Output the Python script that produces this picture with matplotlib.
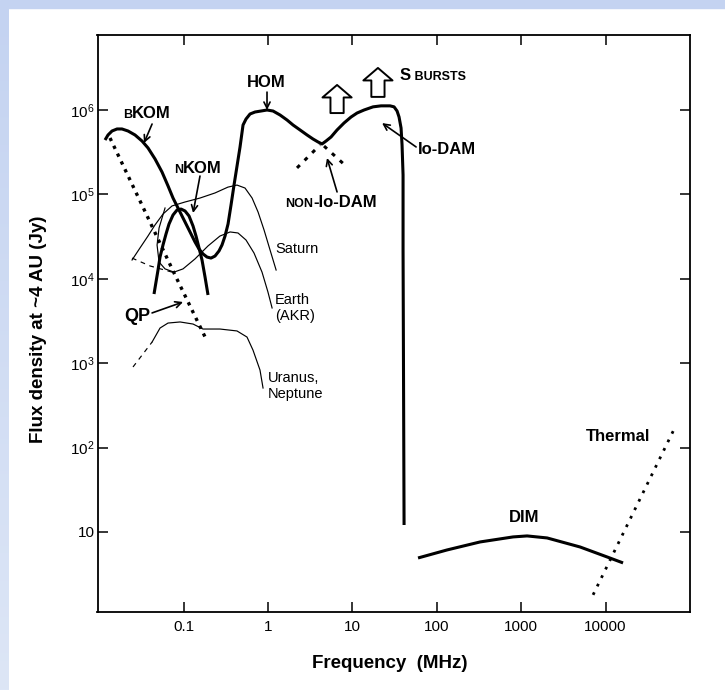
import matplotlib
matplotlib.use("Agg")
import matplotlib.pyplot as plt
from matplotlib.patches import Rectangle
from matplotlib.colors import LinearSegmentedColormap
from matplotlib.ticker import NullLocator
import numpy as np

plt.rcParams['font.family'] = ['Liberation Sans', 'DejaVu Sans']
plt.rcParams['mathtext.fontset'] = 'custom'
plt.rcParams['mathtext.rm'] = 'Liberation Sans'
plt.rcParams['mathtext.bf'] = 'Liberation Sans:bold'

# --- data (frequency in MHz, flux density in Jy) ---
# Jupiter: bKOM -> HOM -> Io-DAM envelope (thick solid)
jov_f = [0.01175, 0.01275, 0.01422, 0.0163, 0.01867, 0.0220, 0.02663, 0.03224, 0.03797,
         0.04596, 0.05563, 0.06553, 0.07508, 0.08843, 0.1042, 0.1194, 0.1368, 0.1527,
         0.1702, 0.1898, 0.2117, 0.2361, 0.2634, 0.2859, 0.3102, 0.3368, 0.3654, 0.3965,
         0.4304, 0.4670, 0.5070, 0.5501, 0.6137, 0.7034, 0.8284, 0.9757, 1.149, 1.391,
         1.684, 1.984, 2.401, 2.906, 3.423, 3.924, 4.375, 4.879, 5.594, 6.588, 7.973,
         9.652, 11.37, 13.76, 17.59, 21.88, 27.97, 31.20, 33.86, 35.75, 37.76, 38.80,
         39.88, 39.88, 40.99]
jov_s = [4.41e5, 5.06e5, 5.64e5, 5.96e5, 5.96e5, 5.64e5, 5.06e5, 4.29e5, 3.55e5,
         2.63e5, 1.84e5, 1.26e5, 9.06e4, 6.53e4, 4.71e4, 3.59e4, 2.73e4, 2.25e4,
         1.97e4, 1.81e4, 1.76e4, 1.86e4, 2.14e4, 2.52e4, 3.21e4, 4.46e4, 7.49e4, 1.29e5,
         2.17e5, 3.64e5, 6.64e5, 7.82e5, 8.97e5, 9.47e5, 9.73e5, 1.0e6, 9.73e5, 8.73e5,
         7.61e5, 6.64e5, 5.80e5, 5.06e5, 4.53e5, 4.18e5, 3.96e5, 4.29e5, 4.79e5, 5.80e5,
         7.02e5, 8.26e5, 9.21e5, 1.0e6, 1.09e6, 1.12e6, 1.12e6, 1.09e6, 9.73e5, 8.26e5,
         6.12e5, 3.85e5, 1.70e5, 2.19e4, 12.1]

# nKOM (thick solid)
nkom_f = [0.04471, 0.04722, 0.04987, 0.05267, 0.05716, 0.06204, 0.06732, 0.07508, 0.08375,
          0.09342, 0.1042, 0.1162, 0.1296, 0.1406, 0.1527, 0.1656, 0.1798, 0.1951]
nkom_s = [6.60e3, 9.17e3, 1.27e4, 1.81e4, 2.52e4, 3.40e4, 4.46e4, 5.70e4, 6.53e4,
          6.71e4, 6.36e4, 5.55e4, 4.22e4, 3.21e4, 2.32e4, 1.67e4, 1.05e4, 6.43e3]

# QP (thick dotted)
qp_f = [0.01346, 0.0322, 0.0792, 0.190]
qp_s = [4.66e5, 7.48e4, 1.11e4, 1.83e3]

# non-Io-DAM extrapolations (dotted)
nonio_left_f = [2.21, 4.14]
nonio_left_s = [2.06e5, 3.85e5]
nonio_right_f = [4.62, 8.65]
nonio_right_s = [3.74e5, 2.11e5]

# Saturn (thin)
sat_f = [0.02455, 0.0305, 0.0379, 0.0459, 0.0572, 0.0731, 0.1042, 0.157, 0.236,
         0.336, 0.430, 0.535, 0.649, 0.764, 0.900, 1.06, 1.25]
sat_s = [1.67e4, 2.32e4, 3.21e4, 4.34e4, 5.86e4, 7.30e4, 8.13e4, 9.06e4, 1.04e5,
         1.22e5, 1.29e5, 1.19e5, 9.06e4, 6.18e4, 3.78e4, 2.19e4, 1.27e4]

# Earth AKR (thin) and its dashed low-frequency part
earth_f = [0.0604, 0.0513, 0.0486, 0.0513, 0.0604, 0.0771, 0.0986, 0.1368, 0.195,
           0.270, 0.356, 0.442, 0.550, 0.684, 0.851, 1.0, 1.12]
earth_s = [6.90e4, 4.0e4, 2.51e4, 1.58e4, 1.31e4, 1.20e4, 1.31e4, 1.72e4, 2.45e4,
           3.21e4, 3.59e4, 3.49e4, 2.88e4, 2.02e4, 1.20e4, 6.98e3, 4.51e3]
earth_ext_f = [0.02455, 0.0401, 0.0731]
earth_ext_s = [1.76e4, 1.42e4, 1.20e4]

# Uranus, Neptune (thin) and dashed low-frequency part
ur_f = [0.0424, 0.0527, 0.0655, 0.091, 0.1297, 0.170, 0.270, 0.430, 0.565, 0.665, 0.805, 0.875]
ur_s = [1.78e3, 2.61e3, 2.99e3, 3.08e3, 2.91e3, 2.54e3, 2.54e3, 2.41e3, 2.04e3, 1.43e3, 830, 508]
ur_ext_f = [0.0252, 0.0424]
ur_ext_s = [902, 1.78e3]

# DIM (thick solid) and thermal (dotted)
dim_f = [60.0, 132, 326, 802, 1175, 2028, 4990, 10420, 16100]
dim_s = [4.92, 6.12, 7.62, 8.74, 8.98, 8.5, 6.64, 5.06, 4.30]
therm_f = [7110, 66700]
therm_s = [1.80, 175]

xticks = [0.1, 1, 10, 100, 1000, 10000]
xticklabels = ['0.1', '1', '10', '100', '1000', '10000']
yticks = [10, 1e2, 1e3, 1e4, 1e5, 1e6]
yticklabels = ['10', r'$\mathregular{10^{2}}$', r'$\mathregular{10^{3}}$',
               r'$\mathregular{10^{4}}$', r'$\mathregular{10^{5}}$', r'$\mathregular{10^{6}}$']

fig = plt.figure(figsize=(7.25, 6.9), dpi=100)

# light-blue slide border (top + left)
fig.patches.append(Rectangle((0, 1 - 8 / 690), 1, 8 / 690, transform=fig.transFigure,
                             color='#c4d3f1', zorder=0))
strip = fig.add_axes([0, 0, 9 / 725, 1 - 8 / 690])
grad = np.linspace(0, 1, 256).reshape(-1, 1)
strip.imshow(grad, aspect='auto',
             cmap=LinearSegmentedColormap.from_list('bg', ['#c4d3f1', '#dde6f6']))
strip.axis('off')

ax = fig.add_axes([97.5 / 725, 1 - 612 / 690, 592.5 / 725, 577 / 690])
ax.set_xscale('log')
ax.set_yscale('log')
ax.set_xlim(0.00957, 1.0e5)
ax.set_ylim(1.127, 7.74e6)

thick = dict(color='black', lw=2.2, solid_capstyle='butt', solid_joinstyle='round')
thin = dict(color='black', lw=0.85, solid_joinstyle='round')

ax.plot(jov_f, jov_s, **thick)
ax.plot(nkom_f, nkom_s, **thick)
ax.plot(qp_f, qp_s, color='black', lw=2.4, linestyle=(0, (1, 1.6)))
ax.plot(nonio_left_f, nonio_left_s, color='black', lw=2.2, linestyle=(0, (1.3, 2.2)))
ax.plot(nonio_right_f, nonio_right_s, color='black', lw=2.2, linestyle=(0, (1.3, 2.2)))
ax.plot(sat_f, sat_s, **thin)
ax.plot(earth_f, earth_s, **thin)
ax.plot(earth_ext_f, earth_ext_s, color='black', lw=0.85, linestyle=(0, (4, 4)))
ax.plot(ur_f, ur_s, **thin)
ax.plot(ur_ext_f, ur_ext_s, color='black', lw=0.85, linestyle=(0, (4, 4)))
ax.plot(dim_f, dim_s, **thick)
ax.plot(therm_f, therm_s, color='black', lw=2.0, linestyle=(0, (1, 2.4)))

# axes styling
ax.set_xticks(xticks)
ax.set_xticklabels(xticklabels)
ax.set_yticks(yticks)
ax.set_yticklabels(yticklabels)
ax.xaxis.set_minor_locator(NullLocator())
ax.yaxis.set_minor_locator(NullLocator())
ax.tick_params(direction='in', top=True, right=True, length=7, width=1.1,
               labelsize=11, pad=6)
ax.tick_params(axis='y', pad=2)
for sp in ax.spines.values():
    sp.set_linewidth(1.3)

ax.set_xlabel('Frequency  (MHz)', fontsize=13.5, fontweight='bold')
ax.set_ylabel('Flux density at ~4 AU (Jy)', fontsize=13.5, fontweight='bold')
ax.xaxis.set_label_coords(0.494, -0.075)
ax.yaxis.set_label_coords(-0.085, 0.49)

BIG, SMALL = 12, 9


def caps_label(x, y, parts):
    """Bold label with small-caps pieces; parts = [(text, is_big), ...]."""
    t = None
    for s, big in parts:
        size = BIG if big else SMALL
        if t is None:
            t = ax.text(x, y, s, fontsize=size, fontweight='bold', va='baseline', ha='left')
        else:
            t = ax.annotate(s, xy=(1, 0), xycoords=t, fontsize=size, fontweight='bold',
                            va='bottom', ha='left')


def pointer(head, tail):
    ax.annotate('', xy=head, xytext=tail,
                arrowprops=dict(arrowstyle='->', lw=1.2, color='black', shrinkA=0, shrinkB=0,
                                mutation_scale=11))


caps_label(0.0192, 8.04e5, [('B', False), ('KOM', True)])
pointer((0.034, 4.06e5), (0.0424, 6.82e5))
caps_label(0.0771, 1.80e5, [('N', False), ('KOM', True)])
pointer((0.1297, 6.02e4), (0.1567, 1.65e5))
ax.text(0.950, 2.09e6, 'HOM', fontsize=BIG, fontweight='bold', ha='center', va='center')
pointer((0.975, 1.0e6), (0.975, 1.63e6))
caps_label(36.7, 2.27e6, [('S', True), (' BURSTS', False)])
ax.text(60.0, 3.45e5, 'Io-DAM', fontsize=BIG, fontweight='bold', ha='left', va='center')
pointer((22.5, 7.0e5), (56.9, 3.65e5))
caps_label(1.596, 7.1e4, [('NON', False), ('-Io-DAM', True)])
pointer((5.01, 2.70e5), (6.59, 1.07e5))
ax.text(0.0281, 3.62e3, 'QP', fontsize=13, fontweight='bold', ha='center', va='center')
pointer((0.0987, 5.31e3), (0.0424, 3.94e3))

# hollow block arrows (S bursts)
for xa, y0, y1 in [(6.59, 9.2e5, 1.98e6), (20.1, 1.43e6, 3.15e6)]:
    ax.annotate('', xy=(xa, y1), xytext=(xa, y0),
                arrowprops=dict(arrowstyle='simple,head_length=0.9,head_width=2.1,tail_width=0.95',
                                fc='white', ec='black', lw=1.4, shrinkA=0, shrinkB=0,
                                mutation_scale=10))

ax.text(1.213, 2.25e4, 'Saturn', fontsize=10.5, ha='left', va='center')
ax.text(1.213, 4.5e3, 'Earth\n(AKR)', fontsize=10.5, ha='left', va='center', linespacing=1.25)
ax.text(1.0, 537, 'Uranus,\nNeptune', fontsize=10.5, ha='left', va='center', linespacing=1.25)
ax.text(1081, 14.7, 'DIM', fontsize=BIG, fontweight='bold', ha='center', va='center')
ax.text(14060, 134, 'Thermal', fontsize=BIG, fontweight='bold', ha='center', va='center')

fig.savefig('out.png', dpi=100)
